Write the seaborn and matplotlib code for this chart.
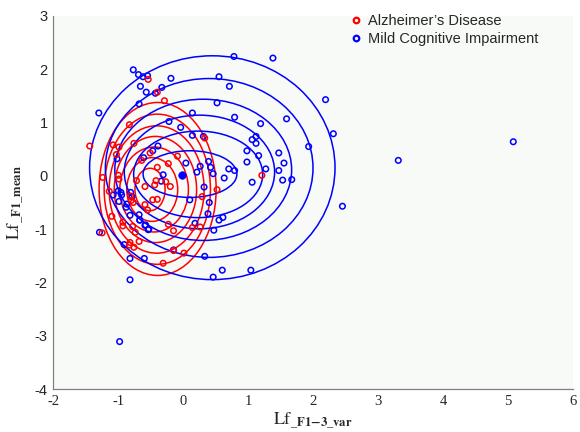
import numpy as np
import pandas as pd
import matplotlib
matplotlib.use("Agg")
import matplotlib.pyplot as plt
import seaborn as sns
from matplotlib.patches import Ellipse
from matplotlib.lines import Line2D

# ---------------- data ----------------
ad_x = [-0.54, -0.40, -0.29, -0.83, -1.44, -1.08, -0.99, -0.76, -1.03, -0.51,
        -0.64, -0.09, 0.33, -0.23, -0.40, -1.24, -1.00, -0.99, -0.72, -0.42,
        -0.27, -0.59, -0.44, -0.20, -1.14, -1.10, -0.80, -0.59, -0.47, -0.40,
        -0.55, 0.29, 0.52, 1.21, -0.81, -0.77, -0.93, -0.78, -1.25, -0.93,
        -0.74, -0.68, -0.82, -0.83, -0.76, -0.23, -0.15, -0.15, 0.01, -0.31,
        0.14, 0.26]
ad_y = [1.81, 1.57, 1.41, 0.96, 0.56, 0.58, 0.54, 0.61, 0.40, 0.43,
        0.29, 0.37, 0.71, 0.23, 0.16, -0.03, 0.01, -0.06, -0.09, -0.09,
        -0.11, -0.20, -0.17, -0.20, -0.29, -0.76, -0.46, -0.54, -0.45, -0.44,
        -0.64, -0.39, -0.26, 0.01, -0.38, -0.50, -0.87, -0.95, -1.07, -0.94,
        -1.06, -1.23, -1.25, -1.30, -1.34, -0.91, -1.03, -1.40, -1.45, -1.64,
        -0.97, -0.96]

mci_x = [-0.77, -0.69, -0.62, -0.55, -0.19, -0.66, -0.57, -0.33, 0.55, 0.78,
         1.38, 0.71, -1.30, -0.68, 0.14, 0.52, 0.79, 1.59, -0.04, -0.22,
         0.14, 0.31, 1.19, 1.12, 1.06, 1.12, 0.98, 1.16, 1.47, 1.55,
         1.47, 1.27, 0.98, 1.06, 1.53, 0.79, 0.70, 0.63, 0.46, 0.42,
         0.39, 0.26, 0.21, 0.04, -0.31, -0.34, -0.39, -0.47, -0.61, -1.02,
         0.32, 0.40, 0.10, -1.08, -1.00, -0.95, -0.99, -0.81, -0.79, -0.88,
         -0.68, 0.38, 0.61, 2.19, 2.31, 1.93, 1.67, 2.45, 3.31, 5.08,
         -1.29, -0.67, -0.58, -0.53, -0.91, -0.82, -0.60, -0.82, -0.98, -0.15,
         0.18, 0.47, 0.33, 0.46, 0.60, 1.04, 0.55, -0.43, -0.96, -0.87,
         -0.82, -0.67, -0.59, -0.54]
mci_y = [1.99, 1.90, 1.86, 1.88, 1.83, 1.68, 1.57, 1.66, 1.86, 2.24,
         2.21, 1.68, 1.18, 1.35, 1.18, 1.37, 1.10, 1.07, 0.91, 1.02,
         0.76, 0.74, 0.98, 0.74, 0.68, 0.61, 0.47, 0.38, 0.43, 0.24,
         0.10, 0.13, 0.26, -0.12, -0.08, 0.10, 0.13, -0.04, 0.04, 0.16,
         0.27, 0.18, 0.07, 0.24, 0.02, -0.10, 0.56, 0.47, 0.34, 0.32,
         -0.21, -0.50, -0.45, -0.36, -0.28, -0.36, -0.48, -0.31, -0.39, -0.59,
         -0.73, -0.71, -0.78, 1.43, 0.79, 0.55, -0.07, -0.57, 0.29, 0.64,
         -1.06, -0.83, -0.92, -1.00, -1.29, -1.55, -1.55, -1.95, -3.11, -1.39,
         -0.89, -1.02, -1.51, -1.90, -1.77, -1.77, -0.83, 1.55, -0.31, -0.53,
         -0.74, -0.83, -0.93, -1.01]
mci_center_x = [-0.02]
mci_center_y = [0.01]

# contour ellipses (centre x, centre y, half width, half height)
ad_ell_cx = [-0.512, -0.478, -0.449, -0.429, -0.410, -0.400, -0.395]
ad_ell_cy = [-0.256, -0.256, -0.256, -0.256, -0.256, -0.251, -0.246]
ad_ell_hw = [0.232, 0.392, 0.528, 0.634, 0.731, 0.818, 0.901]
ad_ell_hh = [0.398, 0.598, 0.797, 0.996, 1.195, 1.409, 1.623]

mci_ell_cx = [0.103, 0.229, 0.249, 0.307, 0.399, 0.447]
mci_ell_cy = [0.033, 0.028, 0.073, 0.113, 0.148, 0.153]
mci_ell_hw = [0.722, 0.993, 1.157, 1.361, 1.598, 1.889]
mci_ell_hh = [0.438, 0.812, 1.066, 1.325, 1.678, 2.100]

x_ticks = [-2, -1, 0, 1, 2, 3, 4, 5, 6]
y_ticks = [-4, -3, -2, -1, 0, 1, 2, 3]
labels = ["Alzheimer’s Disease", "Mild Cognitive Impairment"]
colors = ["#ff0000", "#0000ff"]

# ---------------- figure ----------------
sns.set_style("white")
plt.rcParams["font.family"] = ["Liberation Sans", "DejaVu Sans"]
plt.rcParams["mathtext.fontset"] = "stix"

fig = plt.figure(figsize=(5.8, 4.32), dpi=100)
ax = fig.add_axes([0.092, 0.0995, 0.896, 0.8635])
ax.set_facecolor("#f8faf8")

# ellipses
for cx, cy, hw, hh in zip(ad_ell_cx, ad_ell_cy, ad_ell_hw, ad_ell_hh):
    ax.add_patch(Ellipse((cx, cy), 2 * hw, 2 * hh, fill=False, ec=colors[0], lw=1.1, zorder=2))
for cx, cy, hw, hh in zip(mci_ell_cx, mci_ell_cy, mci_ell_hw, mci_ell_hh):
    ax.add_patch(Ellipse((cx, cy), 2 * hw, 2 * hh, fill=False, ec=colors[1], lw=1.1, zorder=2))

# points
sns.scatterplot(x=mci_x, y=mci_y, ax=ax, marker="o", s=16, fc="none",
                ec=colors[1], linewidth=1.1, zorder=3)
sns.scatterplot(x=ad_x, y=ad_y, ax=ax, marker="o", s=16, fc="none",
                ec=colors[0], linewidth=1.1, zorder=3)
sns.scatterplot(x=mci_center_x, y=mci_center_y, ax=ax, marker="o", s=30,
                color=colors[1], ec=colors[1], zorder=4)

ax.set_xlim(-2, 6)
ax.set_ylim(-4, 3)
ax.set_xticks(x_ticks)
ax.set_xticklabels([str(v) for v in x_ticks], family="Liberation Serif", fontsize=10.5)
ax.set_yticks(y_ticks)
ax.set_yticklabels([str(v) for v in y_ticks], family="Liberation Sans", fontsize=10.5)
ax.tick_params(direction="in", length=4, width=0.8, color="#808080", pad=4)
for s in ["top", "right"]:
    ax.spines[s].set_visible(False)
for s in ["left", "bottom"]:
    ax.spines[s].set_color("#808080")
    ax.spines[s].set_linewidth(0.9)

ax.set_xlabel(r"$\mathrm{Lf}_{\mathbf{\_F1{-}3\_var}}$", fontsize=13, labelpad=2)
ax.set_ylabel(r"$\mathrm{Lf}_{\mathbf{\_F1\_mean}}$", fontsize=13, labelpad=6)

handles = [Line2D([], [], ls="none", marker="o", ms=4, mfc="none", mec=c, mew=1.6) for c in colors]
ax.legend(handles, labels, loc="upper left", bbox_to_anchor=(352 / 580, 1 - 14 / 432),
          bbox_transform=fig.transFigure, frameon=False, fontsize=10.5,
          handlelength=0.6, handletextpad=0.5, labelspacing=0.3, borderaxespad=0,
          borderpad=0)

fig.savefig("out.png", dpi=100)
